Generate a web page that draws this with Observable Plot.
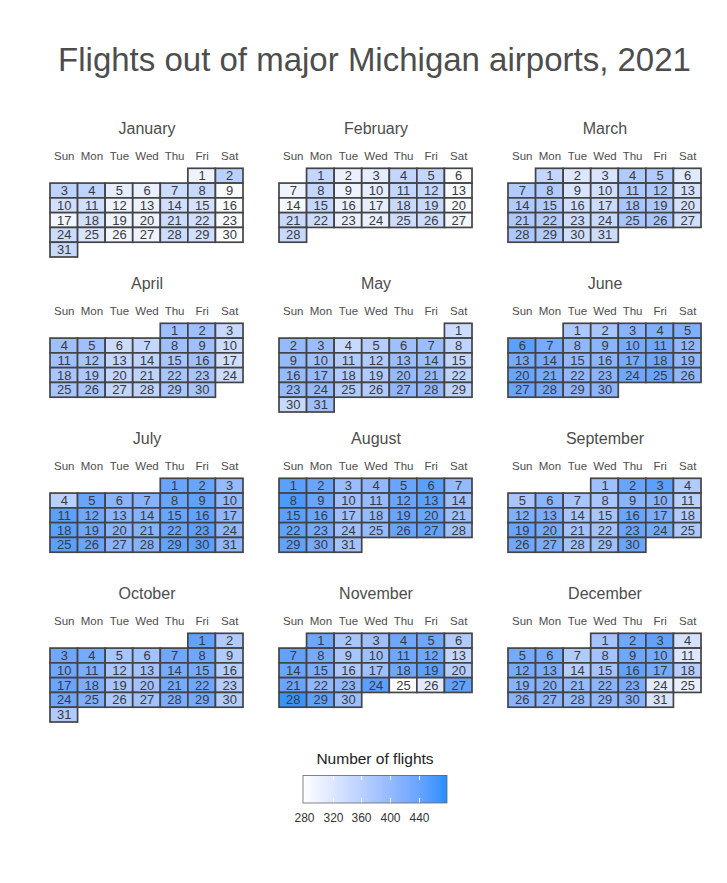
<!DOCTYPE html>
<html>
<head>
<meta charset="utf-8">
<script src="https://cdn.jsdelivr.net/npm/d3@7"></script>
<script src="https://cdn.jsdelivr.net/npm/@observablehq/plot@0.6"></script>
<style>
  html, body { margin: 0; padding: 0; background: #ffffff; }
  body { width: 727px; height: 883px; position: relative; font-family: "Liberation Sans", Arial, sans-serif; overflow: hidden; }
  #title { position: absolute; top: 41px; left: 0; width: 749px; text-align: center; font-size: 33px; line-height: 38px; color: #4d4d4d; }
  #chart { position: absolute; top: 100px; left: 0; }
  #legtitle { position: absolute; top: 749px; left: 0; width: 750px; text-align: center; font-size: 15.5px; line-height: 20px; color: #222; }
  #legend { position: absolute; top: 775px; left: 283px; }
</style>
</head>
<body>
<div id="title">Flights out of major Michigan airports, 2021</div>
<div id="chart"></div>
<div id="legtitle">Number of flights</div>
<div id="legend"></div>
<script>
const months = ["January", "February", "March", "April", "May", "June",
  "July", "August", "September", "October", "November", "December"];
const weekdays = ["Sun", "Mon", "Tue", "Wed", "Thu", "Fri", "Sat"];
const year = 2021;

// Daily number of flights, one array per month
const jan = [300, 360, 355, 355, 310, 305, 340, 345, 285, 335, 335, 300, 303, 335, 330, 285,
  295, 335, 300, 300, 340, 335, 285, 340, 325, 296, 300, 340, 335, 283, 345];
const feb = [350, 305, 310, 350, 350, 285, 300, 350, 300, 310, 350, 350, 290, 290,
  350, 305, 310, 345, 345, 290, 345, 340, 305, 305, 340, 340, 295, 345];
const mar = [350, 320, 325, 370, 370, 315, 370, 370, 325, 335, 375, 375, 330, 370, 370, 335,
  340, 380, 375, 330, 375, 370, 340, 345, 380, 380, 335, 375, 370, 335, 340];
const apr = [390, 390, 345, 390, 390, 340, 350, 390, 390, 340, 390, 380, 350, 355, 380,
  390, 335, 380, 375, 350, 355, 380, 380, 340, 380, 380, 350, 355, 380, 380];
const may = [340, 400, 395, 345, 365, 390, 395, 355, 400, 390, 370, 370, 395, 395, 350, 400,
  400, 370, 370, 400, 400, 355, 400, 400, 370, 370, 404, 404, 355, 345, 390];
const jun = [375, 380, 410, 420, 420, 450, 430, 405, 410, 430, 435, 405, 430, 430, 405,
  410, 430, 435, 405, 440, 430, 405, 410, 435, 440, 405, 440, 430, 405, 410];
const jul = [440, 440, 400, 360, 440, 410, 415, 440, 445, 405, 450, 435, 410, 415, 440, 445,
  405, 450, 435, 410, 415, 440, 450, 405, 450, 440, 410, 415, 445, 450, 405];
const aug = [450, 440, 395, 405, 440, 450, 400, 460, 440, 390, 400, 440, 450, 390, 450, 440,
  390, 400, 440, 440, 390, 445, 430, 390, 400, 440, 445, 390, 445, 430, 385];
const sep = [390, 440, 450, 370, 380, 410, 380, 380, 410, 415, 360, 420, 425, 380, 380,
  440, 425, 370, 440, 430, 385, 385, 440, 430, 375, 435, 425, 385, 390, 440];
const oct = [445, 370, 435, 430, 380, 385, 435, 435, 370, 435, 425, 380, 385, 430, 430, 365,
  440, 425, 380, 385, 430, 435, 365, 435, 420, 375, 385, 425, 430, 365, 370];
const nov = [435, 380, 390, 435, 435, 370, 445, 430, 380, 390, 435, 435, 350, 440, 425,
  375, 390, 435, 450, 365, 440, 405, 405, 450, 279, 315, 445, 470, 445, 390];
const dec = [385, 435, 445, 330, 430, 430, 370, 385, 435, 430, 320, 430, 425, 365, 385, 445,
  430, 365, 415, 415, 400, 410, 425, 315, 305, 410, 410, 400, 405, 415, 325];
const monthValues = [jan, feb, mar, apr, may, jun, jul, aug, sep, oct, nov, dec];
const legendTicks = [280, 320, 360, 400, 440];

// Build the calendar table
const days = [];
monthValues.forEach((vals, m) => {
  const first = new Date(year, m, 1).getDay();
  vals.forEach((v, i) => {
    days.push({
      month: months[m], day: i + 1, value: v,
      wd: (first + i) % 7, wk: Math.floor((first + i) / 7),
      col: m % 3, row: Math.floor(m / 3)
    });
  });
});
const monthLabels = months.map((name, m) => ({name, col: m % 3, row: Math.floor(m / 3)}));
const dayLabels = months.flatMap((name, m) => weekdays.map((w, i) => ({w, i, col: m % 3, row: Math.floor(m / 3)})));

const colorOpts = {type: "linear", domain: [279, 479], range: ["#ffffff", "#1e90ff"], interpolate: "lab"};
const font = "'Liberation Sans', Arial, sans-serif";

const chart = Plot.plot({
  width: 727,
  height: 631,
  marginLeft: 48.3,
  marginRight: 25.3,
  marginTop: 20.5,
  marginBottom: 9.8,
  style: {fontFamily: font, background: "transparent"},
  fx: {axis: null, paddingInner: 0.1591, paddingOuter: 0},
  fy: {axis: null, paddingInner: 0.12452, paddingOuter: 0},
  x: {axis: null, domain: [0, 7]},
  y: {axis: null, domain: [-3.2, 6], reverse: true},
  color: colorOpts,
  marks: [
    Plot.rect(days, {
      x1: d => d.wd, x2: d => d.wd + 1, y1: d => d.wk, y2: d => d.wk + 1,
      fx: "col", fy: "row", fill: "value", stroke: "#444444", strokeWidth: 1.7
    }),
    Plot.text(days, {
      x: d => d.wd + 0.5, y: d => d.wk + 0.5, fx: "col", fy: "row",
      text: d => String(d.day), fontSize: 13, fill: "#3a3a3a"
    }),
    Plot.text(dayLabels, {
      x: d => d.i + 0.5, y: () => -0.86, fx: "col", fy: "row",
      text: "w", fontSize: 11.5, fill: "#4d4d4d"
    }),
    Plot.text(monthLabels, {
      x: () => 3.5, y: () => -2.69, fx: "col", fy: "row",
      text: "name", fontSize: 16, fill: "#4d4d4d"
    })
  ]
});
document.getElementById("chart").appendChild(chart);

const leg = Plot.legend({
  color: colorOpts,
  label: null,
  ticks: legendTicks,
  tickFormat: d => String(d),
  tickSize: 0,
  width: 184,
  marginLeft: 20,
  marginRight: 20,
  height: 56,
  marginTop: 0,
  marginBottom: 28,
  style: {fontFamily: font, fontSize: "12px", color: "#333", background: "transparent"}
});
document.getElementById("legend").appendChild(leg);
d3.select(leg).selectAll(".tick line")
  .attr("stroke", "#ffffff").attr("stroke-dasharray", "5,18,5");
d3.select(leg).selectAll(".tick text").attr("y", 10);
d3.select(leg).append("rect")
  .attr("x", 20).attr("y", 0.5).attr("width", 144).attr("height", 27.5)
  .attr("fill", "none").attr("stroke", "#666").attr("stroke-width", 0.8);
</script>
</body>
</html>
